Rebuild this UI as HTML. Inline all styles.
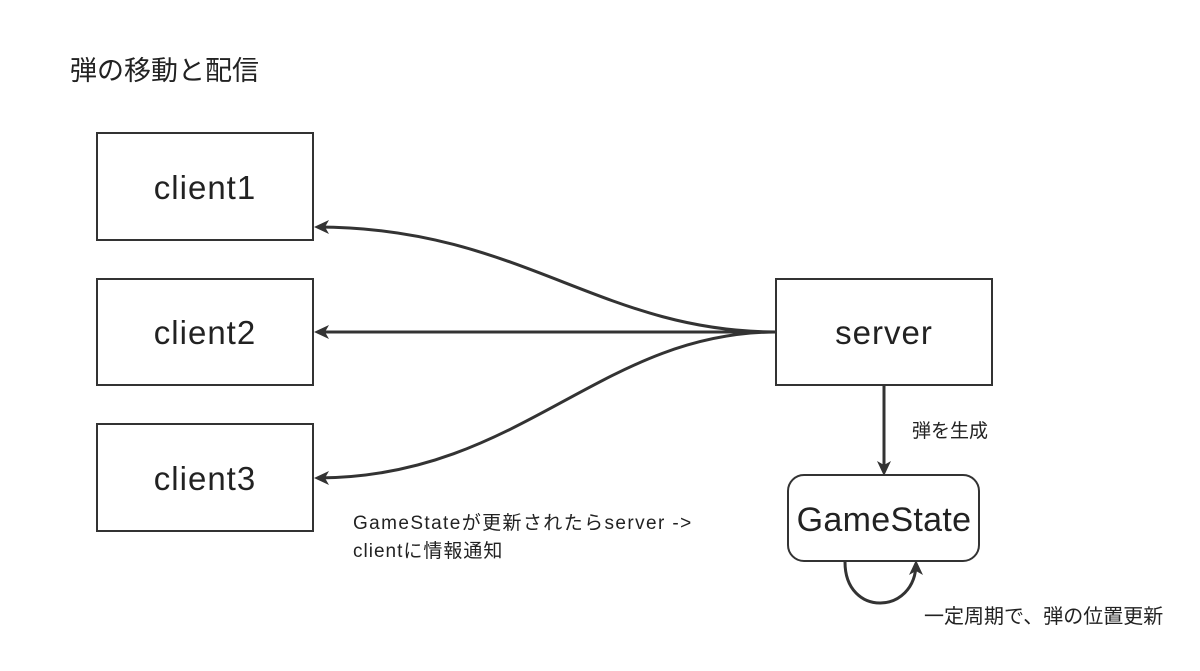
<!DOCTYPE html>
<html><head><meta charset="utf-8"><style>
body{margin:0;background:#fff;width:1200px;height:666px;overflow:hidden;font-family:"Liberation Sans","Noto Sans CJK JP",sans-serif;}
</style></head><body>
<svg width="1200" height="666" xmlns="http://www.w3.org/2000/svg" font-family="'Liberation Sans','Noto Sans CJK JP',sans-serif">
<defs><marker id="a" markerWidth="16" markerHeight="16" refX="12" refY="8" orient="auto" markerUnits="userSpaceOnUse"><path d="M0,1 L15,8 L0,15 L4,8 Z" fill="#333"/></marker></defs>
<text x="70" y="80" font-size="27" fill="#222">弾の移動と配信</text>
<g fill="none" stroke="#333" stroke-width="2">
<rect x="97" y="133" width="216" height="107"/>
<rect x="97" y="279" width="216" height="106"/>
<rect x="97" y="424" width="216" height="107"/>
<rect x="776" y="279" width="216" height="106"/>
<rect x="788" y="475" width="191" height="86" rx="16"/>
</g>
<g font-size="33" fill="#222" text-anchor="middle" letter-spacing="1">
<text x="205" y="199">client1</text>
<text x="205" y="344">client2</text>
<text x="205" y="490">client3</text>
<text x="884" y="344">server</text>
<text x="884" y="531" font-size="34" letter-spacing="0.3">GameState</text>
</g>
<g fill="none" stroke="#333" stroke-width="3" marker-end="url(#a)">
<path d="M776,332 C600,332 520,227 317,227"/>
<path d="M776,332 L317,332"/>
<path d="M776,332 C600,332 520,478 317,478"/>
<path d="M884,385 L884,473"/>
<path d="M845,562 C845,618 916,615 916,563"/>
</g>
<g font-size="19" fill="#222">
<text x="912" y="437">弾を生成</text>
<text x="353" y="529" letter-spacing="1.4">GameStateが更新されたらserver -&gt;</text>
<text x="353" y="557" letter-spacing="1">clientに情報通知</text>
<text x="924" y="623" font-size="20">一定周期で、弾の位置更新</text>
</g>
</svg>
</body></html>
